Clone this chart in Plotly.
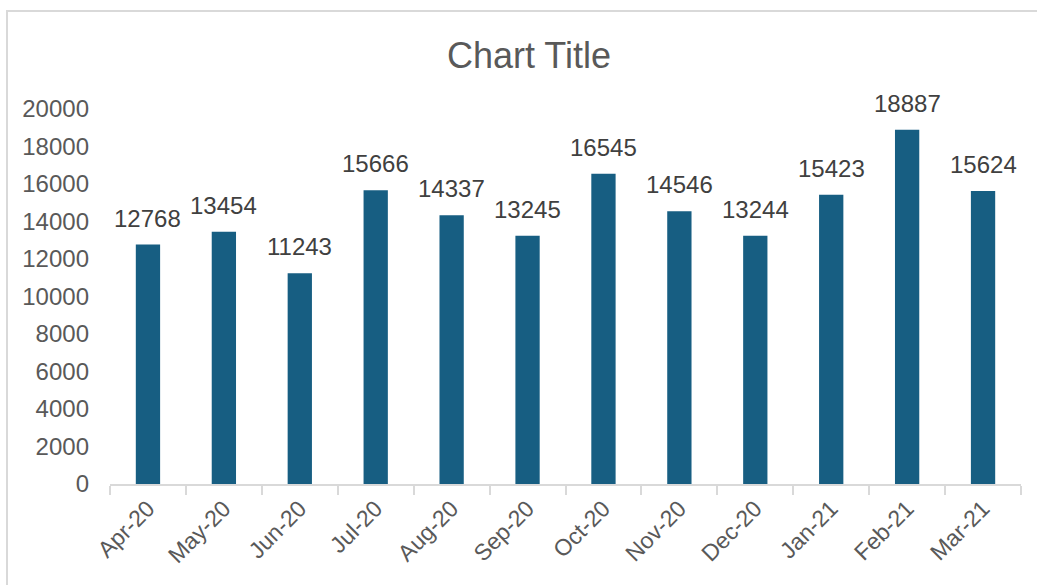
import plotly.graph_objects as go

months = ["Apr-20", "May-20", "Jun-20", "Jul-20", "Aug-20", "Sep-20",
          "Oct-20", "Nov-20", "Dec-20", "Jan-21", "Feb-21", "Mar-21"]
values = [12768, 13454, 11243, 15666, 14337, 13245,
          16545, 14546, 13244, 15423, 18887, 15624]
y_ticks = list(range(0, 20001, 2000))

W, H = 1037, 585
L, R, T, B = 110, 16, 109, 101

fig = go.Figure(go.Bar(
    x=months, y=values,
    marker=dict(color="#175e82", line=dict(width=0)),
    width=0.32,
    hoverinfo="x+y",
))

for m, v in zip(months, values):
    fig.add_annotation(x=m, y=v, xref="x", yref="y", text=str(v),
                       showarrow=False, yanchor="bottom", yshift=11,
                       font=dict(size=24, color="#404040",
                                 family="Liberation Sans, Arial"))

fig.update_layout(
    width=W, height=H,
    margin=dict(l=L, r=R, t=T, b=B),
    paper_bgcolor="white", plot_bgcolor="white",
    font=dict(family="Liberation Sans, Arial", color="#595959", size=24),
    title=dict(text="Chart Title", x=529 / W, xanchor="center",
               y=1 - 55 / H, yanchor="middle",
               font=dict(size=36, color="#595959")),
    showlegend=False,
    bargap=0.68,
)
fig.update_xaxes(
    type="category", tickangle=-45, tickson="boundaries",
    ticks="outside", ticklen=9, tickwidth=2, tickcolor="#d9d9d9",
    showline=True, linecolor="#d9d9d9", linewidth=2,
    showgrid=False, zeroline=False,
    tickfont=dict(size=23, color="#595959"),
)
fig.update_yaxes(
    range=[0, 20000], tickvals=y_ticks, ticktext=[str(v) for v in y_ticks],
    showgrid=False, zeroline=False, showline=False,
    ticks="", ticklabelstandoff=20,
    tickfont=dict(size=24, color="#595959"),
)

pw, ph = W - L - R, H - T - B
fig.add_shape(type="rect", xref="paper", yref="paper",
              x0=(7 - L) / pw, x1=(W + 20 - L) / pw,
              y0=-(H + 20 - (H - B)) / ph, y1=(H - B - 11) / ph,
              line=dict(color="#d9d9d9", width=2), fillcolor="rgba(0,0,0,0)",
              layer="below")

fig.write_html("out.html", config={"displayModeBar": False},
               post_script="document.body.style.margin='0';")
